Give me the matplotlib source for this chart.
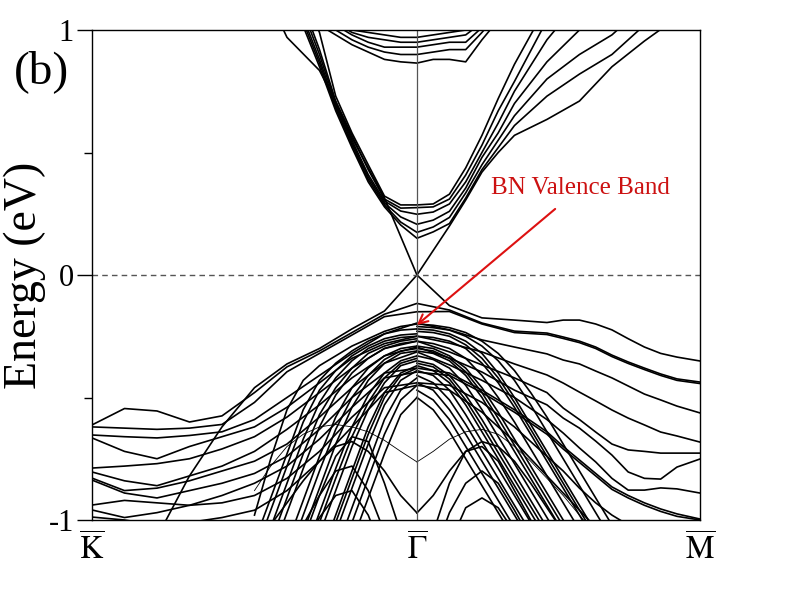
import matplotlib.pyplot as plt

plt.rcParams['font.family'] = ['Liberation Serif', 'DejaVu Serif']
plt.rcParams['mathtext.fontset'] = 'stix'

# k path: K = -1, Gamma = 0, M = 0.871 (|GM|/|GK|)
k_M = 0.871
k_full = [-1.0, -0.9, -0.8, -0.7, -0.6, -0.5, -0.4, -0.3, -0.2, -0.1, 0.0,
          0.1, 0.2, 0.3, 0.4, 0.45, 0.5, 0.55, 0.6, 0.65, 0.7, 0.75, 0.8, k_M]
k_cond = [-0.5, -0.4, -0.3, -0.25, -0.2, -0.15, -0.1, -0.05, 0.0, 0.05, 0.1,
          0.15, 0.2, 0.25, 0.3, 0.4, 0.5, 0.6, 0.7, 0.8]
k_left = [0.0, -0.05, -0.1, -0.15, -0.2, -0.25, -0.3, -0.35, -0.4, -0.45, -0.5]
k_right = [0.0, 0.05, 0.1, 0.15, 0.2, 0.25, 0.3, 0.35, 0.4, 0.45, 0.5, 0.55,
           0.6, 0.65]

# conduction side (on k_cond)
dirac_upper = [1.25, 0.97, 0.835, 0.706, 0.56, 0.437, 0.314, 0.157, 0.0, 0.10,
               0.20, 0.306, 0.42, 0.50, 0.57, 0.635, 0.71, 0.85, 0.955, 1.05]
cond_low = [
    [1.6, 1.3, 0.99, 0.73, 0.58, 0.45, 0.322, 0.286, 0.286, 0.29, 0.33, 0.437, 0.57, 0.72, 0.86, 1.1, 1.3, 1.5, 1.6, 1.7],
    [1.6, 1.28, 0.92, 0.71, 0.57, 0.43, 0.31, 0.273, 0.275, 0.278, 0.31, 0.408, 0.53, 0.67, 0.79, 1.04, 1.25, 1.4, 1.6, 1.7],
    [1.6, 1.25, 0.90, 0.70, 0.55, 0.41, 0.302, 0.261, 0.248, 0.257, 0.29, 0.38, 0.50, 0.62, 0.75, 0.96, 1.12, 1.3, 1.5, 1.6],
    [1.55, 1.22, 0.88, 0.69, 0.54, 0.40, 0.294, 0.237, 0.207, 0.224, 0.26, 0.355, 0.48, 0.58, 0.70, 0.87, 1.0, 1.15, 1.3, 1.5],
    [1.5, 1.2, 0.865, 0.68, 0.53, 0.39, 0.286, 0.216, 0.174, 0.196, 0.235, 0.335, 0.45, 0.55, 0.65, 0.80, 0.90, 0.98, 1.1, 1.3],
    [1.5, 1.18, 0.85, 0.67, 0.52, 0.38, 0.278, 0.204, 0.150, 0.176, 0.21, 0.314, 0.43, 0.52, 0.61, 0.73, 0.82, 0.90, 1.02, 1.15],
]
cond_high = [
    [1.6, 1.4, 1.1, 1.04, 1.0, 0.99, 0.98, 0.97, 0.97, 0.98, 0.99, 1.0, 1.05, 1.15, 1.3, 1.5, 1.6, 1.7, 1.8, 1.9],
    [1.55, 1.35, 1.08, 1.03, 0.99, 0.97, 0.96, 0.95, 0.95, 0.96, 0.97, 0.98, 1.03, 1.12, 1.28, 1.5, 1.6, 1.7, 1.8, 1.9],
    [1.5, 1.3, 1.06, 1.02, 0.98, 0.95, 0.93, 0.93, 0.93, 0.94, 0.95, 0.95, 1.01, 1.1, 1.25, 1.45, 1.6, 1.7, 1.8, 1.9],
    [1.5, 1.3, 1.04, 1.0, 0.96, 0.93, 0.91, 0.90, 0.90, 0.91, 0.92, 0.92, 0.99, 1.07, 1.2, 1.4, 1.6, 1.7, 1.8, 1.9],
    [1.45, 1.25, 1.02, 0.98, 0.94, 0.91, 0.88, 0.87, 0.865, 0.88, 0.88, 0.87, 0.96, 1.04, 1.15, 1.35, 1.5, 1.7, 1.8, 1.9],
]

# valence bands running K -> Gamma -> M (on k_full)
dirac_lower = [-1.5, -1.3, -1.07, -0.82, -0.62, -0.46, -0.363, -0.30, -0.22, -0.147, 0.0,
               -0.125, -0.175, -0.184, -0.194, -0.184, -0.184, -0.20, -0.224, -0.26, -0.294, -0.32, -0.335, -0.351]
val_long = [
    [-0.612, -0.545, -0.555, -0.60, -0.575, -0.48, -0.375, -0.31, -0.235, -0.16, -0.116,
     -0.143, -0.196, -0.229, -0.237, -0.253, -0.27, -0.294, -0.327, -0.355, -0.38, -0.404, -0.424, -0.437],
    [-0.62, -0.625, -0.63, -0.625, -0.61, -0.52, -0.395, -0.32, -0.245, -0.17, -0.15,
     -0.149, -0.2, -0.235, -0.243, -0.259, -0.276, -0.30, -0.333, -0.361, -0.386, -0.41, -0.43, -0.443],
    [-0.653, -0.66, -0.665, -0.655, -0.64, -0.59, -0.50, -0.41, -0.32, -0.24, -0.196,
     -0.224, -0.265, -0.294, -0.322, -0.347, -0.363, -0.392, -0.42, -0.453, -0.486, -0.51, -0.535, -0.563],
    [-0.665, -0.72, -0.75, -0.70, -0.66, -0.62, -0.54, -0.44, -0.34, -0.28, -0.25,
     -0.278, -0.314, -0.363, -0.408, -0.441, -0.478, -0.514, -0.551, -0.584, -0.612, -0.641, -0.657, -0.682],
    [-0.788, -0.78, -0.77, -0.75, -0.71, -0.66, -0.58, -0.48, -0.38, -0.30, -0.27,
     -0.314, -0.367, -0.42, -0.48, -0.543, -0.59, -0.641, -0.69, -0.714, -0.72, -0.727, -0.727, -0.727],
    [-0.804, -0.84, -0.86, -0.82, -0.78, -0.72, -0.63, -0.53, -0.42, -0.33, -0.294,
     -0.339, -0.396, -0.47, -0.53, -0.584, -0.625, -0.678, -0.735, -0.804, -0.83, -0.833, -0.784, -0.751],
    [-0.829, -0.88, -0.87, -0.84, -0.80, -0.76, -0.69, -0.58, -0.46, -0.36, -0.314,
     -0.367, -0.43, -0.50, -0.59, -0.645, -0.706, -0.763, -0.83, -0.878, -0.878, -0.869, -0.873, -0.89],
    [-0.837, -0.89, -0.91, -0.88, -0.85, -0.81, -0.74, -0.63, -0.50, -0.40, -0.38,
     -0.40, -0.47, -0.55, -0.64, -0.70, -0.755, -0.81, -0.865, -0.90, -0.93, -0.955, -0.975, -0.996],
    [-0.939, -0.92, -0.93, -0.94, -0.90, -0.85, -0.78, -0.67, -0.54, -0.42, -0.396,
     -0.41, -0.48, -0.56, -0.65, -0.71, -0.765, -0.82, -0.875, -0.91, -0.94, -0.965, -0.985, -1.0],
    [-0.959, -0.99, -0.97, -0.94, -0.93, -0.90, -0.83, -0.72, -0.58, -0.46, -0.44,
     -0.45, -0.52, -0.62, -0.74, -0.80, -0.87, -0.93, -0.98, -1.02, -1.05, -1.08, -1.1, -1.1],
    [-0.988, -1.0, -1.02, -1.01, -0.99, -0.96, -0.88, -0.76, -0.62, -0.48, -0.45,
     -0.47, -0.56, -0.68, -0.82, -0.89, -0.96, -1.03, -1.1, -1.15, -1.2, -1.25, -1.3, -1.3],
]

# steep bulk bands falling away from Gamma
bulk_left = [
    [-0.20, -0.21, -0.23, -0.26, -0.29, -0.33, -0.37, -0.43, -0.55, -0.75, -0.98],
    [-0.22, -0.225, -0.24, -0.27, -0.31, -0.36, -0.43, -0.55, -0.73, -0.91, -1.09],
    [-0.24, -0.245, -0.26, -0.29, -0.33, -0.39, -0.47, -0.60, -0.78, -0.96, -1.14],
    [-0.25, -0.255, -0.27, -0.30, -0.35, -0.42, -0.52, -0.67, -0.85, -1.03, -1.2],
    [-0.26, -0.27, -0.29, -0.32, -0.38, -0.46, -0.57, -0.73, -0.91, -1.09],
    [-0.27, -0.28, -0.30, -0.34, -0.40, -0.49, -0.62, -0.79, -0.97, -1.15, -1.3],
    [-0.29, -0.30, -0.33, -0.38, -0.46, -0.58, -0.74, -0.92, -1.1, -1.28],
    [-0.30, -0.31, -0.345, -0.41, -0.50, -0.63, -0.80, -0.98, -1.16],
    [-0.31, -0.32, -0.36, -0.43, -0.54, -0.69, -0.87, -1.05, -1.23],
    [-0.33, -0.35, -0.40, -0.49, -0.62, -0.79, -0.97, -1.15],
    [-0.34, -0.36, -0.42, -0.52, -0.66, -0.83, -1.01],
    [-0.35, -0.37, -0.44, -0.55, -0.70, -0.88, -1.06, -1.24],
    [-0.37, -0.40, -0.48, -0.62, -0.80, -0.98, -1.16],
    [-0.38, -0.41, -0.50, -0.65, -0.83, -1.01],
    [-0.39, -0.43, -0.53, -0.69, -0.87, -1.05],
    [-0.42, -0.47, -0.59, -0.77, -0.95, -1.13],
    [-0.45, -0.51, -0.65, -0.83, -1.01],
    [-0.50, -0.57, -0.73, -0.91, -1.09],
    [-0.971, -0.90, -0.80, -0.72, -0.68, -0.70, -0.76, -0.84, -0.93, -1.02, -1.1],
    [-1.25, -1.05, -0.85, -0.68, -0.66, -0.74, -0.9, -1.08, -1.25],
    [-1.3, -1.2, -1.05, -0.88, -0.78, -0.80, -0.90, -1.02, -1.15],
    [-1.4, -1.3, -1.15, -0.98, -0.88, -0.90, -0.99, -1.1],
]
bulk_right = [
    [-0.20, -0.205, -0.215, -0.235, -0.27, -0.32, -0.39, -0.48, -0.58, -0.69, -0.80, -0.91, -1.02, -1.13],
    [-0.21, -0.215, -0.225, -0.25, -0.29, -0.35, -0.43, -0.53, -0.64, -0.75, -0.86, -0.97, -1.08, -1.19],
    [-0.22, -0.225, -0.24, -0.27, -0.32, -0.40, -0.50, -0.61, -0.72, -0.83, -0.94, -1.05, -1.16],
    [-0.23, -0.235, -0.25, -0.285, -0.34, -0.42, -0.52, -0.63, -0.74, -0.85, -0.96, -1.07],
    [-0.25, -0.255, -0.27, -0.30, -0.36, -0.44, -0.54, -0.65, -0.76, -0.87, -0.98, -1.09],
    [-0.27, -0.28, -0.30, -0.34, -0.41, -0.50, -0.60, -0.71, -0.82, -0.93, -1.04],
    [-0.29, -0.30, -0.33, -0.38, -0.46, -0.56, -0.67, -0.78, -0.89, -1.0, -1.1],
    [-0.30, -0.31, -0.34, -0.395, -0.48, -0.585, -0.695, -0.805, -0.915, -1.025],
    [-0.31, -0.32, -0.35, -0.41, -0.50, -0.61, -0.72, -0.83, -0.94, -1.05],
    [-0.33, -0.345, -0.38, -0.45, -0.55, -0.66, -0.77, -0.88, -0.99, -1.1],
    [-0.35, -0.365, -0.41, -0.49, -0.59, -0.70, -0.81, -0.92, -1.03],
    [-0.36, -0.375, -0.425, -0.51, -0.615, -0.725, -0.835, -0.945, -1.055],
    [-0.37, -0.39, -0.44, -0.53, -0.64, -0.75, -0.86, -0.97, -1.08],
    [-0.39, -0.41, -0.47, -0.57, -0.68, -0.79, -0.90, -1.01],
    [-0.41, -0.44, -0.51, -0.61, -0.72, -0.83, -0.94, -1.05],
    [-0.44, -0.47, -0.55, -0.65, -0.76, -0.87, -0.98, -1.09],
    [-0.47, -0.51, -0.59, -0.70, -0.81, -0.92, -1.03],
    [-0.50, -0.55, -0.64, -0.75, -0.86, -0.97, -1.08],
    [-0.971, -0.90, -0.80, -0.72, -0.68, -0.70, -0.76, -0.85, -0.95, -1.05],
    [-1.25, -1.05, -0.85, -0.72, -0.70, -0.76, -0.88, -1.0, -1.12],
    [-1.35, -1.15, -0.97, -0.85, -0.80, -0.85, -0.96, -1.08],
    [-1.45, -1.3, -1.1, -0.95, -0.91, -0.95, -1.05],
]
# thin band with its minimum at Gamma
thin_left = [-0.763, -0.72, -0.675, -0.64, -0.62, -0.61, -0.62, -0.65, -0.70, -0.78, -0.88]
thin_right = [-0.763, -0.72, -0.67, -0.64, -0.63, -0.65, -0.70, -0.76, -0.83, -0.90, -0.98, -1.06]

tick_pos = [-1.0, 0.0, k_M]
tick_names = [r'$\overline{\mathrm{K}}$', r'$\overline{\Gamma}$', r'$\overline{\mathrm{M}}$']

fig = plt.figure(figsize=(7.92, 6.12), dpi=100)
ax = fig.add_axes([92 / 792, 1 - 520 / 612, 608 / 792, 490 / 612])

lw = 1.2
ax.plot(k_cond, dirac_upper, color='black', lw=lw)
for e in cond_low + cond_high:
    ax.plot(k_cond, e, color='black', lw=lw)
ax.plot(k_full, dirac_lower, color='black', lw=lw)
for e in val_long:
    ax.plot(k_full, e, color='black', lw=lw)
for e in bulk_left:
    ax.plot(k_left[:len(e)], e, color='black', lw=lw)
for e in bulk_right:
    ax.plot(k_right[:len(e)], e, color='black', lw=lw)
ax.plot(k_left, thin_left, color='black', lw=0.6)
ax.plot(k_right[:len(thin_right)], thin_right, color='black', lw=0.6)

ax.axvline(0.0, color='#555555', lw=0.9)
ax.axhline(0.0, color='#555555', lw=1.0, ls=(0, (4, 3)))

ax.set_xlim(-1.0, k_M)
ax.set_ylim(-1.0, 1.0)
ax.set_xticks(tick_pos)
ax.set_xticklabels(tick_names, fontsize=23)
ax.tick_params(axis='x', length=0, pad=9)
ax.set_yticks([-1, 0, 1])
ax.set_yticklabels(['-1', '0', '1'], fontsize=22)
ax.set_yticks([-0.5, 0.5], minor=True)
ax.tick_params(axis='y', which='major', direction='out', length=11, width=1.0, pad=2)
ax.tick_params(axis='y', which='minor', direction='out', length=6, width=1.0)
for s in ax.spines.values():
    s.set_linewidth(1.0)

ax.set_ylabel('Energy (eV)', fontsize=33, labelpad=2)
fig.text(42 / 792, 1 - 72 / 612, '(b)', fontsize=34, ha='center', va='center')

ax.annotate('BN Valence Band', xy=(0.0, -0.204), xytext=(0.502, 0.355),
            fontsize=18, color='#cc1111', ha='center', va='center',
            arrowprops=dict(arrowstyle='->', color='#dd1111', lw=1.5,
                            shrinkA=8, shrinkB=0, mutation_scale=16))

fig.savefig('out.png', dpi=100)
